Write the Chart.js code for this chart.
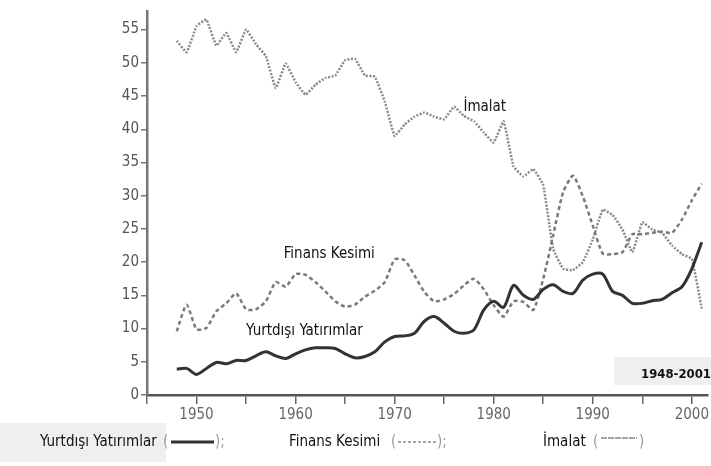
<!DOCTYPE html>
<html>
<head>
<meta charset="utf-8">
<script src="https://cdn.jsdelivr.net/npm/chart.js@4/dist/chart.umd.min.js"></script>
<style>
  body { margin: 0; background: #fff; }
  .wrap { position: relative; width: 711px; height: 466px; }
</style>
</head>
<body>
<div class="wrap"><canvas id="graph-profits"></canvas></div>
<script>
// Data (share, %)
const years = [];
for (let y = 1948; y <= 2001; y++) years.push(y);

const yurtdisi = [3.9, 4, 3.1, 4, 4.9, 4.7, 5.2, 5.2, 5.9, 6.5,
  5.9, 5.5, 6.2, 6.8, 7.1, 7.1, 7, 6.2, 5.6, 5.8,
  6.5, 8, 8.8, 8.9, 9.3, 11.1, 11.8, 10.8, 9.6, 9.3,
  9.8, 12.8, 14.1, 13.2, 16.5, 15, 14.4, 15.9, 16.6, 15.6,
  15.3, 17.3, 18.2, 18.2, 15.6, 15, 13.8, 13.8, 14.2, 14.4,
  15.4, 16.3, 19, 23];

const finans = [9.6, 13.6, 9.9, 10.1, 12.6, 13.8, 15.3, 12.9, 12.9, 14.1,
  17, 16.3, 18.2, 18.1, 17, 15.6, 14.1, 13.3, 13.6, 14.8,
  15.7, 17, 20.4, 20.3, 18, 15.5, 14.1, 14.4, 15.2, 16.5,
  17.5, 15.9, 13.5, 11.8, 14.1, 14, 12.8, 17.5, 24, 30.5,
  33, 29.9, 25.5, 21.3, 21.2, 21.5, 24.2, 24.2, 24.4, 24.6,
  24.4, 26.4, 29.3, 31.8];

const imalat = [53.3, 51.6, 55.5, 56.5, 52.6, 54.5, 51.6, 55, 52.8, 51,
  46.2, 49.9, 47.1, 45.2, 46.7, 47.7, 48.1, 50.4, 50.6, 48.1,
  47.9, 44.2, 39, 40.7, 41.9, 42.5, 41.9, 41.5, 43.4, 42,
  41.2, 39.5, 38, 41.2, 34.4, 32.9, 34, 31.6, 22, 19,
  18.8, 20, 23.4, 27.9, 27.1, 24.9, 21.5, 26, 24.9, 24.4,
  22.5, 21.2, 20.5, 13];

const xTicks = [1950, 1960, 1970, 1980, 1990, 2000];

// labels written inside the plot: [text, year, value]
const notes = [
  ["İmalat", 1979.1, 43.4],
  ["Finans Kesimi", 1963.4, 21.2],
  ["Yurtdışı Yatırımlar", 1960.9, 9.6],
];

const narrow = '"Liberation Sans Narrow", "Arial Narrow", "DejaVu Sans Condensed", sans-serif';

const pts = (arr) => arr.map((v, i) => ({ x: years[i], y: v }));

// plugin: period box, inline labels, bottom legend
const extras = {
  id: "extras",
  beforeDatasetsDraw(chart) {
    const ctx = chart.ctx;
    ctx.save();
    ctx.fillStyle = "#efefef";
    ctx.fillRect(614, 357, 97, 28);
    ctx.fillStyle = "#111";
    ctx.font = "bold 13px " + narrow;
    ctx.textAlign = "right";
    ctx.textBaseline = "middle";
    ctx.fillText("1948-2001", 711, 375);
    ctx.restore();
  },
  afterDraw(chart) {
    const ctx = chart.ctx;
    const xs = chart.scales.x;
    const ys = chart.scales.y;
    ctx.save();
    ctx.fillStyle = "#111";
    ctx.font = "15px " + narrow;
    ctx.textAlign = "center";
    ctx.textBaseline = "middle";
    notes.forEach((n) => {
      ctx.fillText(n[0], xs.getPixelForValue(n[1]), ys.getPixelForValue(n[2]));
    });

    // legend row
    ctx.fillStyle = "#efefef";
    ctx.fillRect(0, 423, 166, 39);
    ctx.textAlign = "left";
    ctx.font = "15px " + narrow;
    const ly = 442;
    ctx.fillStyle = "#111";
    ctx.fillText("Yurtdışı Yatırımlar", 40, ly);
    ctx.fillText("Finans Kesimi", 289, ly);
    ctx.fillText("İmalat", 543, ly);
    ctx.fillStyle = "#999";
    ctx.fillText("(", 163, ly);
    ctx.fillText(");", 215, ly);
    ctx.fillText("(", 391, ly);
    ctx.fillText(");", 437, ly);
    ctx.fillText("(", 593, ly);
    ctx.fillText(")", 639, ly);

    ctx.lineWidth = 3;
    ctx.strokeStyle = "#333";
    ctx.beginPath(); ctx.moveTo(171, ly); ctx.lineTo(214, ly); ctx.stroke();
    ctx.lineWidth = 1.5;
    ctx.strokeStyle = "#888";
    ctx.setLineDash([3, 2]);
    ctx.beginPath(); ctx.moveTo(398, ly); ctx.lineTo(436, ly); ctx.stroke();
    ctx.setLineDash([6, 1]);
    ctx.beginPath(); ctx.moveTo(601, ly - 4); ctx.lineTo(637, ly - 4); ctx.stroke();
    ctx.restore();
  },
};

const chartProfits = new Chart(document.getElementById("graph-profits"), {
  type: "line",
  data: {
    datasets: [
      {
        label: "Yurtdışı Yatırımlar",
        data: pts(yurtdisi),
        borderColor: "#333",
        borderWidth: 3,
        pointRadius: 0,
        tension: 0.3,
      },
      {
        label: "Finans Kesimi",
        data: pts(finans),
        borderColor: "#7a7a7a",
        borderWidth: 2.5,
        borderDash: [4, 3],
        pointRadius: 0,
        tension: 0.2,
      },
      {
        label: "İmalat",
        data: pts(imalat),
        borderColor: "#8a8a8a",
        borderWidth: 2.5,
        borderDash: [2, 1.5],
        pointRadius: 0,
        tension: 0.1,
      },
    ],
  },
  options: {
    responsive: true,
    maintainAspectRatio: false,
    animation: false,
    layout: { padding: { top: 5, right: 0, bottom: 0, left: 0 } },
    plugins: { legend: { display: false }, tooltip: { enabled: false } },
    scales: {
      x: {
        type: "linear",
        min: 1945,
        max: 2001.6,
        afterFit: (s) => { s.height = 71; },
        border: { display: true, color: "#555", width: 2.5 },
        grid: { drawOnChartArea: false, color: "#666", lineWidth: 1.5, tickLength: 9 },
        ticks: {
          stepSize: 5,
          includeBounds: false,
          autoSkip: false,
          maxRotation: 0,
          padding: 2,
          color: "#666",
          font: { family: "DejaVu Sans Condensed", size: 15 },
          callback: (v) => (xTicks.includes(v) ? String(v) : ""),
        },
      },
      y: {
        min: 0,
        max: 57.8,
        afterFit: (s) => { s.width = 147; },
        border: { display: true, color: "#777", width: 2.5 },
        grid: { drawOnChartArea: false, color: "#777", lineWidth: 1.5, tickLength: 6 },
        ticks: {
          stepSize: 5,
          includeBounds: false,
          padding: 2,
          color: "#555",
          font: { family: narrow, size: 15 },
          callback: (v) => (v % 5 === 0 ? String(v) : ""),
        },
      },
    },
  },
  plugins: [extras],
});
</script>
</body>
</html>
